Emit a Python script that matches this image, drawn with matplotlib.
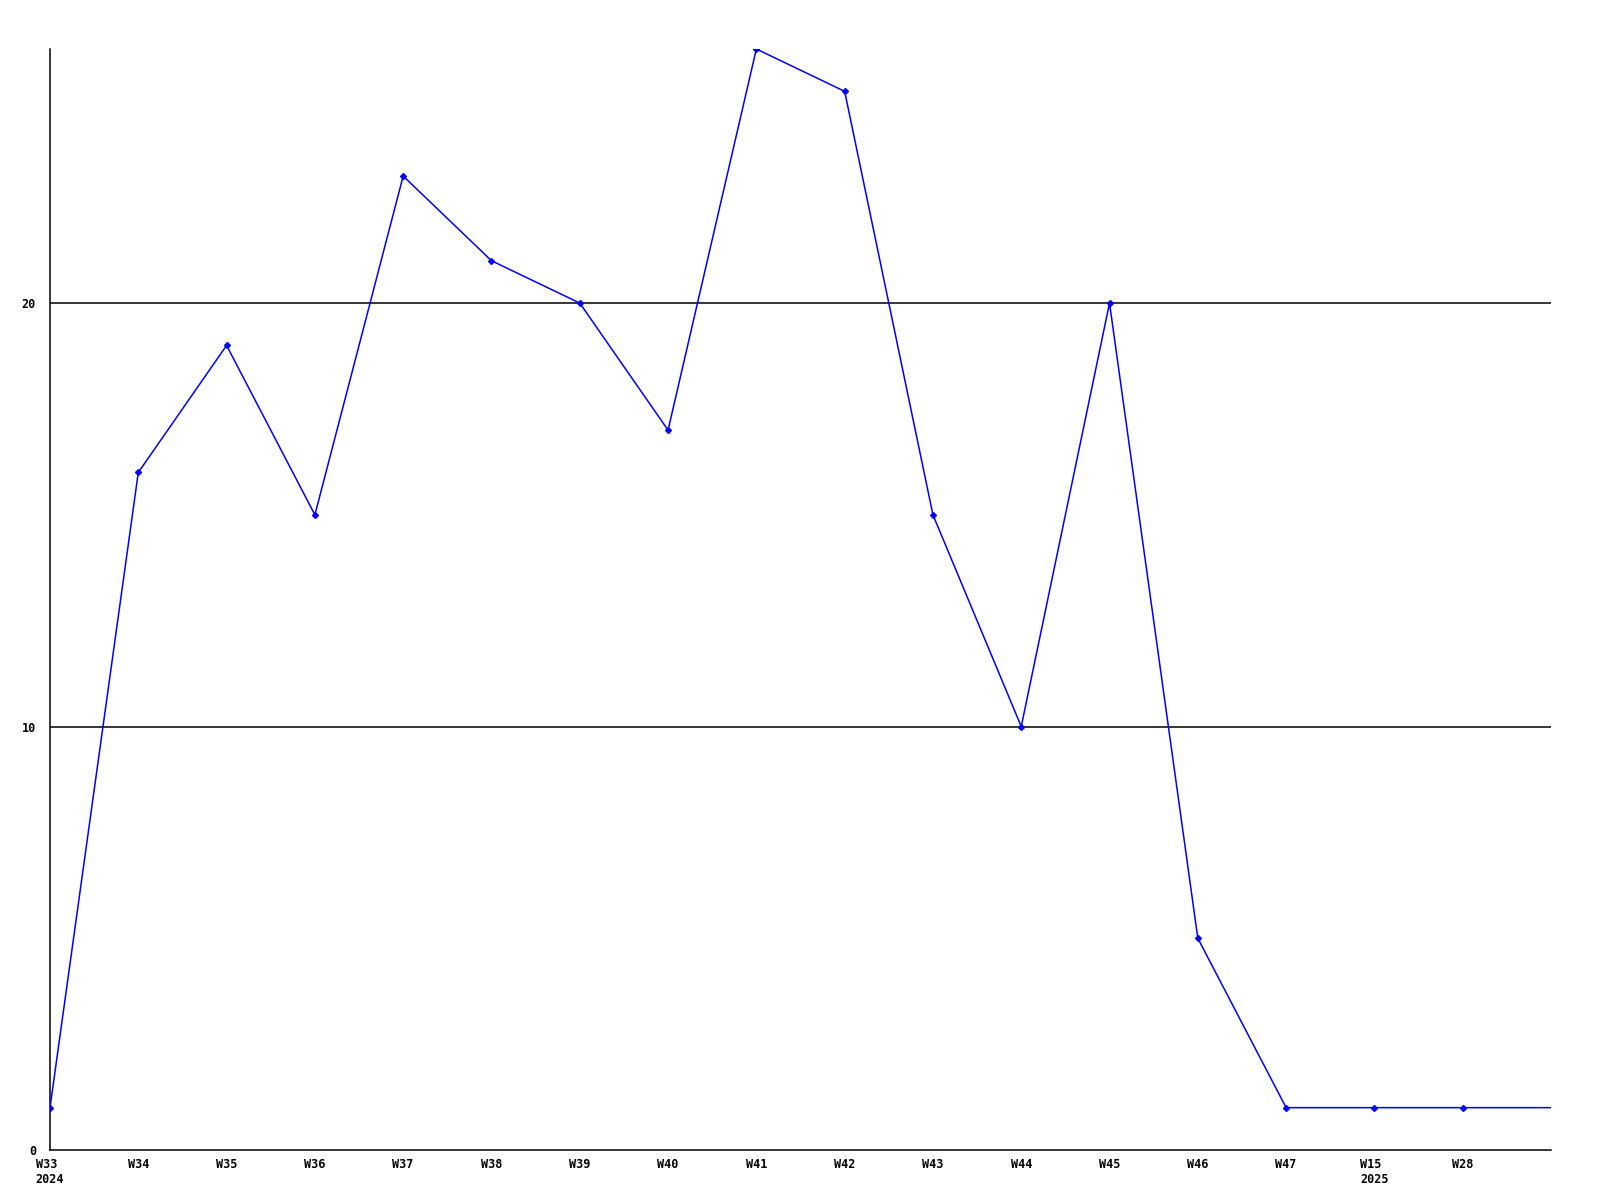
import matplotlib
matplotlib.use("Agg")
import matplotlib.pyplot as plt

# weekly counts
weeks = ["W33\n2024", "W34", "W35", "W36", "W37", "W38", "W39", "W40", "W41",
         "W42", "W43", "W44", "W45", "W46", "W47", "W15\n2025", "W28"]
counts = [1, 16, 19, 15, 23, 21, 20, 17, 26, 25, 15, 10, 20, 5, 1, 1, 1]
yticks = [0, 10, 20]

fig = plt.figure(figsize=(16, 12), dpi=100)
ax = fig.add_axes([50 / 1600, 50 / 1200, 1501 / 1600, 1101 / 1200])

x = list(range(len(counts)))
xmax = len(counts)

# line runs on to the right edge at the last value
ax.plot(x + [xmax], counts + [counts[-1]], color="#0000ff", lw=1.1, zorder=3)
ax.plot(x, counts, ls="none", marker="D", ms=3, color="#0000ff", zorder=4)

for v in yticks[1:]:
    ax.axhline(v, color="black", lw=1.1, zorder=1)

ax.set_xlim(0, xmax)
ax.set_ylim(0, 26)
ax.set_xticks(x)
ax.set_xticklabels(weeks, multialignment="left")
ax.set_yticks(yticks)
ax.tick_params(length=0, labelsize=8.5)
ax.tick_params(axis="x", pad=6)
ax.tick_params(axis="y", pad=10)
for lab in ax.get_xticklabels() + ax.get_yticklabels():
    lab.set_family("DejaVu Sans Mono")
    lab.set_fontweight("bold")
for lab in ax.get_xticklabels():
    lab.set_linespacing(1.15)

for s in ["top", "right"]:
    ax.spines[s].set_visible(False)
for s in ["left", "bottom"]:
    ax.spines[s].set_linewidth(1.1)

fig.savefig("out.png", dpi=100)
